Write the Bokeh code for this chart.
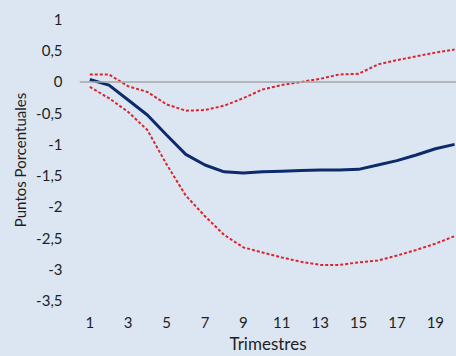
from bokeh.plotting import figure
from bokeh.models import Range1d, FixedTicker, Span
from bokeh.embed import file_html
from bokeh.resources import INLINE

# Data
trimestres = list(range(1, 21))
central = [0.04, -0.05, -0.29, -0.53, -0.85, -1.16, -1.33, -1.44, -1.46, -1.44,
           -1.43, -1.42, -1.41, -1.41, -1.40, -1.33, -1.26, -1.17, -1.07, -1.00]
superior = [0.12, 0.12, -0.07, -0.16, -0.36, -0.46, -0.45, -0.38, -0.26, -0.12,
            -0.05, 0.00, 0.05, 0.12, 0.13, 0.28, 0.35, 0.41, 0.47, 0.52]
inferior = [-0.08, -0.26, -0.48, -0.77, -1.32, -1.82, -2.15, -2.45, -2.65, -2.73,
            -2.81, -2.88, -2.93, -2.93, -2.89, -2.86, -2.78, -2.69, -2.59, -2.47]
y_ticks = [1, 0.5, 0, -0.5, -1, -1.5, -2, -2.5, -3, -3.5]
y_tick_labels = ["1", "0,5", "0", "-0,5", "-1", "-1,5", "-2", "-2,5", "-3", "-3,5"]
x_ticks = [1, 3, 5, 7, 9, 11, 13, 15, 17, 19]
x_title = "Trimestres"
y_title = "Puntos Porcentuales"

BG = "#dce6f2"
FONT = "Lato"
TXT = "#1f1f1f"

p = figure(width=456, height=356, output_backend="svg", toolbar_location=None,
           x_range=Range1d(0.464, 20.1), y_range=Range1d(-3.5, 1.0),
           min_border_left=79, min_border_right=0, min_border_top=19, min_border_bottom=55)
p.background_fill_color = BG
p.border_fill_color = BG
p.outline_line_color = None
p.xgrid.grid_line_color = None
p.ygrid.grid_line_color = None

p.add_layout(Span(location=0, dimension="width", line_color="#a6a6a6", line_width=1.5))

p.line(trimestres, superior, line_color="#d9262e", line_width=2, line_dash="3 2")
p.line(trimestres, inferior, line_color="#d9262e", line_width=2, line_dash="3 2")
p.line(trimestres, central, line_color="#0d2b6b", line_width=3)

for ax in (p.xaxis[0], p.yaxis[0]):
    ax.axis_line_color = None
    ax.major_tick_line_color = None
    ax.minor_tick_line_color = None
    ax.major_tick_out = 0
    ax.major_tick_in = 0
    ax.minor_tick_out = 0
    ax.major_label_text_font = FONT
    ax.major_label_text_font_size = "15px"
    ax.major_label_text_color = TXT
    ax.axis_label_text_font = FONT
    ax.axis_label_text_font_style = "normal"
    ax.axis_label_text_color = TXT

p.yaxis.ticker = FixedTicker(ticks=y_ticks)
p.yaxis.major_label_overrides = {t: l for t, l in zip(y_ticks, y_tick_labels)}
p.yaxis.major_label_standoff = 17
p.yaxis.axis_label = y_title
p.yaxis.axis_label_text_font_size = "15px"
p.yaxis.axis_label_standoff = 4

p.xaxis.ticker = FixedTicker(ticks=x_ticks)
p.xaxis.major_label_standoff = 16
p.xaxis.axis_label = x_title
p.xaxis.axis_label_text_font_size = "17px"
p.xaxis.axis_label_standoff = 2

html = file_html(p, INLINE)
html = html.replace("<head>", "<head><style>html,body{margin:0;padding:0;background:%s;}</style>" % BG, 1)
open("out.html", "w").write(html)
